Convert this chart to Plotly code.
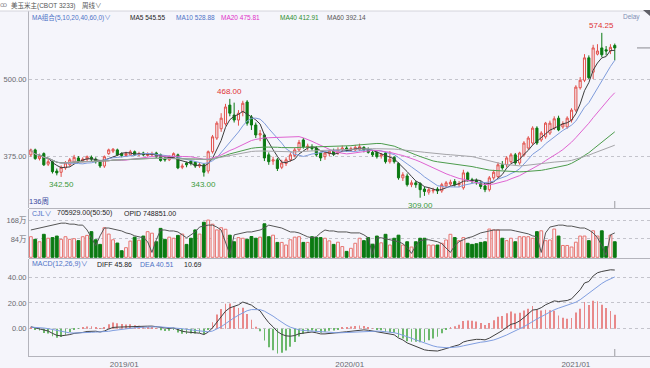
import pandas as pd
import plotly.graph_objects as go

# ---------------- data ----------------
first_week = "2018-08-03"
n_weeks = 136
weeks = pd.date_range(first_week, periods=n_weeks, freq="W-FRI")

open_ = [378, 386, 372, 380, 363, 367, 352, 350, 357, 362, 366, 373, 368, 371, 374, 371, 367, 360, 380, 384,
         386, 380, 377, 378, 383, 378, 381, 377, 378, 381, 378, 372, 370, 374, 378, 358, 365, 368, 366, 360,
         362, 352, 383, 405, 420, 428, 458, 442, 434, 447, 463, 439, 426, 410, 410, 378, 368, 370, 358, 364,
         370, 377, 386, 402, 390, 390, 389, 381, 375, 380, 384, 381, 386, 389, 386, 386, 387, 390, 387, 382,
         382, 376, 381, 367, 374, 364, 341, 344, 330, 333, 332, 323, 318, 320, 323, 320, 328, 331, 335, 330,
         325, 349, 338, 337, 333, 328, 322, 341, 343, 362, 362, 367, 378, 365, 378, 389, 397, 421, 402, 407,
         413, 421, 437, 423, 423, 434, 450, 486, 498, 534, 511, 540, 550, 547, 545, 554]
high = [388, 388, 380, 382, 372, 369, 356, 361, 368, 373, 378, 376, 374, 377, 377, 374, 370, 377, 388, 389,
        388, 382, 383, 386, 385, 383, 383, 382, 383, 383, 380, 375, 377, 382, 380, 364, 367, 370, 368, 366,
        365, 385, 410, 432, 445, 460, 468, 462, 450, 465, 466, 442, 430, 418, 412, 382, 375, 373, 370, 374,
        382, 390, 402, 405, 396, 395, 392, 383, 384, 386, 388, 390, 393, 392, 391, 394, 396, 392, 390, 385,
        384, 381, 383, 384, 376, 366, 350, 348, 337, 336, 334, 327, 326, 325, 326, 333, 336, 338, 339, 336,
        354, 351, 341, 340, 336, 331, 344, 354, 366, 368, 376, 381, 381, 383, 400, 408, 424, 424, 416, 431,
        433, 440, 441, 432, 440, 453, 490, 503, 540, 538, 555, 556, 574.25, 553, 556, 557]
low = [375, 370, 369, 360, 360, 348, 345, 342.5, 354, 359, 364, 365, 366, 368, 368, 364, 357, 357, 378, 381,
       376, 374, 375, 376, 376, 376, 376, 375, 376, 373, 367, 367, 368, 372, 355, 355, 358, 361, 357, 357,
       343, 348, 380, 402, 415, 425, 440, 430, 425, 440, 425, 418, 405, 400, 368, 362, 362, 352, 355, 360,
       367, 374, 383, 388, 385, 385, 375, 368, 370, 376, 376, 378, 383, 383, 383, 384, 384, 382, 380, 375,
       372, 372, 364, 364, 364, 338, 336, 327, 326, 325, 309, 312, 314, 316, 315, 317, 325, 328, 327, 326,
       322, 335, 332, 330, 323, 318, 319, 338, 341, 354, 358, 364, 362, 362, 375, 386, 394, 394, 399, 404,
       410, 418, 416, 420, 420, 430, 447, 483, 495, 500, 500, 538, 535, 538, 540, 530]
close = [386, 372, 376, 362, 367, 351, 349, 358, 365, 370, 374, 368, 371, 375, 371, 367, 360, 375, 386, 387,
         378, 377, 380, 383, 378, 380, 378, 379, 380, 375, 369, 370, 375, 380, 357, 360, 362, 364, 360, 362,
         350, 383, 407, 429, 437, 455, 445, 434, 445, 461, 429, 426, 410, 412, 373, 367, 370, 356, 365, 370,
         378, 386, 398, 391, 392, 388, 378, 373, 381, 384, 379, 386, 389, 386, 388, 390, 391, 386, 382, 378,
         375, 378, 367, 371, 367, 341, 346, 330, 333, 330, 322, 319, 322, 321, 320, 330, 333, 334, 330, 332,
         349, 338, 336, 333, 327, 322, 341, 350, 362, 357, 373, 378, 365, 381, 397, 405, 421, 397, 413, 429,
         429, 436, 418, 428, 437, 450, 487, 498, 534, 502, 550, 545, 539, 545, 551, 550]

# volume (CJL), in 万 (10k) contracts
volume_wan = [94, 82, 71, 105, 87, 90, 97, 82, 94, 82, 85, 76, 94, 100, 117, 80, 59, 135, 106, 80,
              65, 30, 44, 74, 92, 78, 97, 117, 110, 71, 132, 82, 92, 87, 100, 106, 59, 87, 125, 106,
              160, 170, 151, 125, 135, 128, 101, 71, 90, 87, 82, 95, 87, 92, 153, 94, 101, 68, 68, 56,
              80, 92, 94, 68, 68, 94, 90, 90, 87, 75, 59, 69, 49, 27, 41, 64, 87, 76, 90, 60,
              97, 66, 105, 56, 87, 101, 56, 71, 47, 71, 87, 87, 56, 56, 56, 64, 79, 105, 90, 76,
              90, 64, 59, 62, 68, 71, 129, 125, 125, 87, 76, 87, 71, 94, 94, 94, 87, 117, 121, 76,
              79, 129, 97, 54, 54, 47, 69, 97, 97, 76, 121, 97, 121, 49, 101, 71]

# open interest (OPID), in 万 contracts
open_interest_wan = [78, 79, 80, 81, 82, 83, 84, 85, 85, 84, 84, 83, 83, 78, 70, 62, 72, 80, 80, 79,
                     78, 77, 75, 74, 72, 71, 70, 66, 55, 68, 78, 78, 77, 77, 76, 73, 70, 73, 76, 81,
                     82, 83, 83, 81, 78, 66, 53, 73, 74, 75, 76, 76, 77, 78, 80, 83, 82, 81, 80, 78,
                     76, 76, 75, 73, 71, 70, 71, 75, 78, 77, 77, 76, 76, 76, 75, 75, 75, 73, 70, 53,
                     70, 70, 69, 68, 67, 66, 64, 60, 54, 62, 67, 68, 68, 67, 66, 64, 60, 55, 62, 66,
                     68, 70, 71, 73, 75, 76, 77, 78, 78, 78, 78, 78, 77, 76, 75, 74, 72, 71, 55, 75,
                     81, 82, 83, 83, 82, 82, 81, 80, 80, 78, 75, 70, 62, 52, 73, 75]

ma_periods = [5, 10, 20, 40, 60]
ma_colors = ["#3c3c3c", "#7f9cdc", "#e064d2", "#4c9c4c", "#a4a4a8"]
marked_highs = [46, 132]
marked_lows = [7, 40, 90]
macd_seed = {"ema12": 381.5, "ema26": 380.0, "dea": 1.2}

price_ticks = [375, 500]
vol_ticks = [84, 168]
macd_ticks = [0, 20, 40]
year_ticks = ["2019-01-01", "2020-01-01", "2021-01-01"]
year_labels = ["2019/01", "2020/01", "2021/01"]

# ---------------- derived indicators ----------------
cs = pd.Series(close, dtype=float)
mas = {p: cs.rolling(p, min_periods=1).mean() for p in ma_periods}

e12, e26, dea = [macd_seed["ema12"]], [macd_seed["ema26"]], [macd_seed["dea"]]
for c in close[1:]:
    e12.append(e12[-1] * 11 / 13 + c * 2 / 13)
    e26.append(e26[-1] * 25 / 27 + c * 2 / 27)
diff = [a - b for a, b in zip(e12, e26)]
for d in diff[1:]:
    dea.append(dea[-1] * 8 / 10 + d * 2 / 10)
hist = [2 * (d - e) for d, e in zip(diff, dea)]

# ---------------- styling / geometry ----------------
W, H = 650, 368
L, R, T, B = 29, 0, 0, 12
PW, PH = W - L - R, H - T - B
BG = "#f5f5fb"
RED = "#e2514c"
GREEN = "#0b7a12"
AX = "#b4b4bc"
GRID = "#c4c4cc"
FONT = "Liberation Sans, Arial, Noto Sans CJK SC, sans-serif"
DAY_MS = 86400000


def pxx(x):
    return (x - L) / PW


def pxy(y):
    return (H - B - y) / PH


fig = go.Figure()

# price panel
fig.add_trace(go.Candlestick(
    x=weeks, open=open_, high=high, low=low, close=close,
    increasing=dict(line=dict(color=RED, width=1), fillcolor=BG),
    decreasing=dict(line=dict(color=GREEN, width=1), fillcolor=GREEN),
    whiskerwidth=0, xaxis="x", yaxis="y", showlegend=False, hoverinfo="skip"))
for p, col in zip(ma_periods, ma_colors):
    fig.add_trace(go.Scatter(x=weeks, y=mas[p], mode="lines", line=dict(color=col, width=1),
                             xaxis="x", yaxis="y", showlegend=False, hoverinfo="skip"))

# volume panel
up = [c >= o for o, c in zip(open_, close)]
fig.add_trace(go.Bar(
    x=weeks, y=volume_wan, width=4.6 * DAY_MS,
    marker=dict(color=[BG if u else GREEN for u in up],
                line=dict(color=["#e87470" if u else GREEN for u in up], width=1)),
    xaxis="x", yaxis="y2", showlegend=False, hoverinfo="skip"))
fig.add_trace(go.Scatter(x=weeks, y=open_interest_wan, mode="lines", line=dict(color="#555555", width=1),
                         xaxis="x", yaxis="y4", showlegend=False, hoverinfo="skip"))

# MACD panel
fig.add_trace(go.Bar(
    x=weeks, y=hist, width=1.3 * DAY_MS,
    marker=dict(color=["#e8898a" if h >= 0 else "#6cb86c" for h in hist], line=dict(width=0)),
    xaxis="x", yaxis="y3", showlegend=False, hoverinfo="skip"))
fig.add_trace(go.Scatter(x=weeks, y=diff, mode="lines", line=dict(color="#404040", width=1),
                         xaxis="x", yaxis="y3", showlegend=False, hoverinfo="skip"))
fig.add_trace(go.Scatter(x=weeks, y=dea, mode="lines", line=dict(color="#809ee0", width=1),
                         xaxis="x", yaxis="y3", showlegend=False, hoverinfo="skip"))

tickfont = dict(family=FONT, size=7.5, color="#6a6a70")
common_y = dict(showline=True, linecolor=AX, linewidth=1, zeroline=False, showgrid=True,
                gridcolor=GRID, griddash="dot", gridwidth=1, ticks="", tickfont=tickfont,
                fixedrange=True)

fig.update_layout(
    width=W, height=H, margin=dict(l=L, r=R, t=T, b=B),
    paper_bgcolor=BG, plot_bgcolor=BG, showlegend=False, barmode="overlay",
    xaxis=dict(type="date", range=["2018-07-31", "2021-05-01"], anchor="y3",
               showgrid=False, showline=True, linecolor=AX, zeroline=False, ticks="",
               tickvals=year_ticks, ticktext=year_labels, tickfont=dict(family=FONT, size=8, color="#6a6a70"),
               rangeslider=dict(visible=False), fixedrange=True),
    yaxis=dict(domain=[pxy(208), pxy(11)], range=[292.5, 609.4], tickvals=price_ticks,
               ticktext=[f"{v:.2f}" for v in price_ticks], **common_y),
    yaxis2=dict(domain=[pxy(258), pxy(209)], range=[-3.2, 220.5], tickvals=vol_ticks,
                ticktext=[f"{v}万" for v in vol_ticks], **common_y),
    yaxis3=dict(domain=[0, pxy(259)], range=[-21.25, 54.2], tickvals=macd_ticks,
                ticktext=[f"{v:.2f}" for v in macd_ticks], **common_y),
    yaxis4=dict(overlaying="y2", range=[49.3, 99.5], visible=False, fixedrange=True),
)

shapes = [
    # white title strip and its bottom border
    dict(type="rect", xref="paper", yref="paper", x0=pxx(0), x1=pxx(W), y0=pxy(11), y1=pxy(0) + 0.01,
         fillcolor="white", line=dict(width=0), layer="above"),
    dict(type="line", xref="paper", yref="paper", x0=pxx(0), x1=pxx(W), y0=pxy(11), y1=pxy(11),
         line=dict(color="#d4d4dc", width=1)),
    # panel separators
    dict(type="line", xref="paper", yref="paper", x0=0, x1=1, y0=pxy(208.5), y1=pxy(208.5),
         line=dict(color=AX, width=1)),
    dict(type="line", xref="paper", yref="paper", x0=0, x1=1, y0=pxy(258.5), y1=pxy(258.5),
         line=dict(color=AX, width=1)),
    # corner triangle
    dict(type="path", xref="paper", yref="paper",
         path=f"M {pxx(643)},{pxy(10)} L {pxx(650)},{pxy(10)} L {pxx(650)},{pxy(16)} Z",
         fillcolor="#606068", line=dict(width=0)),
    # last-price marker at right edge
    dict(type="line", xref="paper", yref="y", x0=pxx(637), x1=1, y0=close[-1], y1=close[-1],
         line=dict(color="#8a8a90", width=1)),
    # cursor ticks at the last week
    dict(type="line", xref="x", yref="paper", x0=weeks[-1], x1=weeks[-1], y0=pxy(208), y1=pxy(201),
         line=dict(color="#9a9aa0", width=1)),
    dict(type="line", xref="x", yref="paper", x0=weeks[-1], x1=weeks[-1], y0=pxy(356), y1=pxy(349),
         line=dict(color="#9a9aa0", width=1)),
]
fig.update_layout(shapes=shapes)

ann = []


def txt(x, y, s, color, size=7, anchor="left"):
    ann.append(dict(xref="paper", yref="paper", x=pxx(x), y=pxy(y), text=s, showarrow=False,
                    xanchor=anchor, yanchor="middle", xshift=-2, font=dict(family=FONT, size=size, color=color)))


BLUE = "#4d72c6"
txt(0, 5, "ꝏ", "#8a8a90", 7)
txt(11, 5.5, "美玉米主(CBOT 3233)", "#555555", 6.5)
txt(82, 5.5, "周线∨", "#555555", 6.5)
txt(32, 17.5, "MA组合(5,10,20,40,60,0)∨", BLUE, 6.5)
txt(130, 17.5, "MA5 545.55", "#222222", 6.5)
txt(176, 17.5, "MA10 528.88", BLUE, 6.5)
txt(221, 17.5, "MA20 475.81", "#e030c8", 6.5)
txt(280, 17.5, "MA40 412.91", "#2e8e2e", 6.5)
txt(327, 17.5, "MA60 392.14", "#555555", 6.5)
txt(623, 17.5, "Delay", "#8090b4", 6.5)
txt(29, 202, "136周", "#3a4aa0", 7.5)
txt(32, 213, "CJL∨", BLUE, 7)
txt(57, 213, "705929.00(50:50)", "#222222", 7)
txt(124, 213, "OPID 748851.00", "#222222", 7)
txt(32, 264, "MACD(12,26,9)∨", BLUE, 7)
txt(97, 264, "DIFF 45.86", "#222222", 7)
txt(140, 264, "DEA 40.51", BLUE, 7)
txt(184, 264, "10.69", "#222222", 7)

for i in marked_highs:
    ann.append(dict(xref="x", yref="y", x=weeks[i], y=high[i], text=f"{high[i]:.2f}", showarrow=False,
                    yanchor="bottom", yshift=1, font=dict(family=FONT, size=8, color="#e03434")))
for i in marked_lows:
    ann.append(dict(xref="x", yref="y", x=weeks[i], y=low[i], text=f"{low[i]:.2f}", showarrow=False,
                    yanchor="top", yshift=-1, font=dict(family=FONT, size=8, color="#3a9a3a")))
fig.update_layout(annotations=ann)

fig.write_html("out.html")
